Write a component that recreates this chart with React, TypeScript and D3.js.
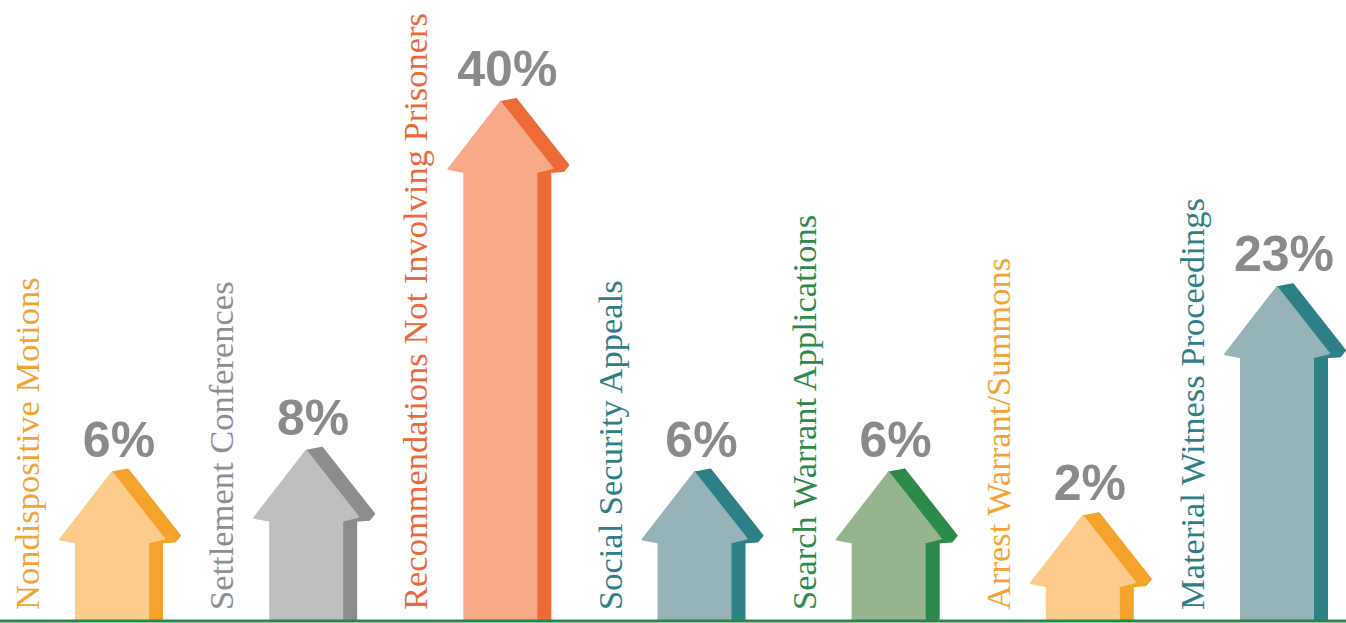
import { useEffect, useRef } from 'react';
import * as d3 from 'd3';

// Chart data
const categories = [
  'Nondispositive Motions',
  'Settlement Conferences',
  'Recommendations Not Involving Prisoners',
  'Social Security Appeals',
  'Search Warrant Applications',
  'Arrest Warrant/Summons',
  'Material Witness Proceedings',
];
const values = [6, 8, 40, 6, 6, 2, 23];
const frontColors = ['#FDCB8A', '#BDBFC1', '#F8AA88', '#95B3B9', '#94B58E', '#FDCB8A', '#95B3B9'];
const sideColors = ['#F5A32B', '#8C8D8F', '#EE6B37', '#2E8087', '#2C8B4B', '#F5A32B', '#2E8087'];
const labelColors = ['#F2A534', '#8D8E90', '#EC6A3A', '#2E7F87', '#2C8B4B', '#F2A534', '#2E7F87'];

export default function App() {
  const svgRef = useRef<SVGSVGElement>(null);

  useEffect(() => {
    if (!svgRef.current) return;
    const width = 1346;
    const height = 623;
    const baseY = 620;

    const svg = d3.select(svgRef.current);
    svg.selectAll('*').remove();
    svg.attr('viewBox', `0 0 ${width} ${height}`);

    const x = d3.scalePoint<string>().domain(categories).range([112, 1277]);
    // tip of arrow head
    const y = d3.scaleLinear().domain([0, 40]).range([538, 102]);

    const data = categories.map((c, i) => ({
      name: c,
      value: values[i],
      front: frontColors[i],
      side: sideColors[i],
      label: labelColors[i],
    }));

    const half = 36; // shaft half width
    const sideW = 14; // shaft side depth
    const headHalf = 52;
    const headH = 66;
    const dx = 16;
    const dy = -3;

    const g = svg.append('g');
    const line = d3.line();

    data.forEach((d) => {
      const cx = x(d.name)!;
      const t = y(d.value);

      const sidePts: [number, number][] = [
        [cx, t],
        [cx + dx, t + dy],
        [cx + headHalf + dx, t + headH + dy],
        [cx + headHalf + dx - 5, t + headH + 3],
        [cx + half + sideW, t + headH + 4],
        [cx + half + sideW, baseY],
        [cx + half, baseY],
        [cx + half, t + headH + 4],
        [cx + headHalf, t + headH],
      ];
      const frontPts: [number, number][] = [
        [cx - half, baseY],
        [cx - half, t + headH + 4],
        [cx - headHalf, t + headH + 1],
        [cx, t],
        [cx + headHalf, t + headH],
        [cx + half, t + headH + 4],
        [cx + half, baseY],
      ];

      g.append('path')
        .attr('d', line(sidePts) + 'Z')
        .attr('fill', d.side)
        .attr('stroke', d.side)
        .attr('stroke-width', 2)
        .attr('stroke-linejoin', 'round');

      g.append('path')
        .attr('d', line(frontPts) + 'Z')
        .attr('fill', d.front)
        .attr('stroke', d.front)
        .attr('stroke-width', 2)
        .attr('stroke-linejoin', 'round');

      // percentage
      g.append('text')
        .attr('x', cx + 7)
        .attr('y', t - 16)
        .attr('text-anchor', 'middle')
        .attr('font-family', '"Liberation Sans", Arial, sans-serif')
        .attr('font-weight', 'bold')
        .attr('font-size', 50)
        .attr('fill', '#8A8A8A')
        .text(`${d.value}%`);

      // vertical category label
      g.append('text')
        .attr('transform', `translate(${cx - 73}, 610) rotate(-90)`)
        .attr('font-family', '"Liberation Serif", "Times New Roman", serif')
        .attr('font-size', 34.5)
        .attr('fill', d.label)
        .text(d.name);
    });

    // baseline
    svg.append('line')
      .attr('x1', 0)
      .attr('x2', width)
      .attr('y1', baseY + 1)
      .attr('y2', baseY + 1)
      .attr('stroke', '#24884C')
      .attr('stroke-width', 3);
  }, []);

  return (
    <div style={{ position: 'fixed', left: 0, top: 0, width: 1346, height: 623, background: '#fff' }}>
      <svg ref={svgRef} width={1346} height={623} style={{ display: 'block' }} />
    </div>
  );
}
